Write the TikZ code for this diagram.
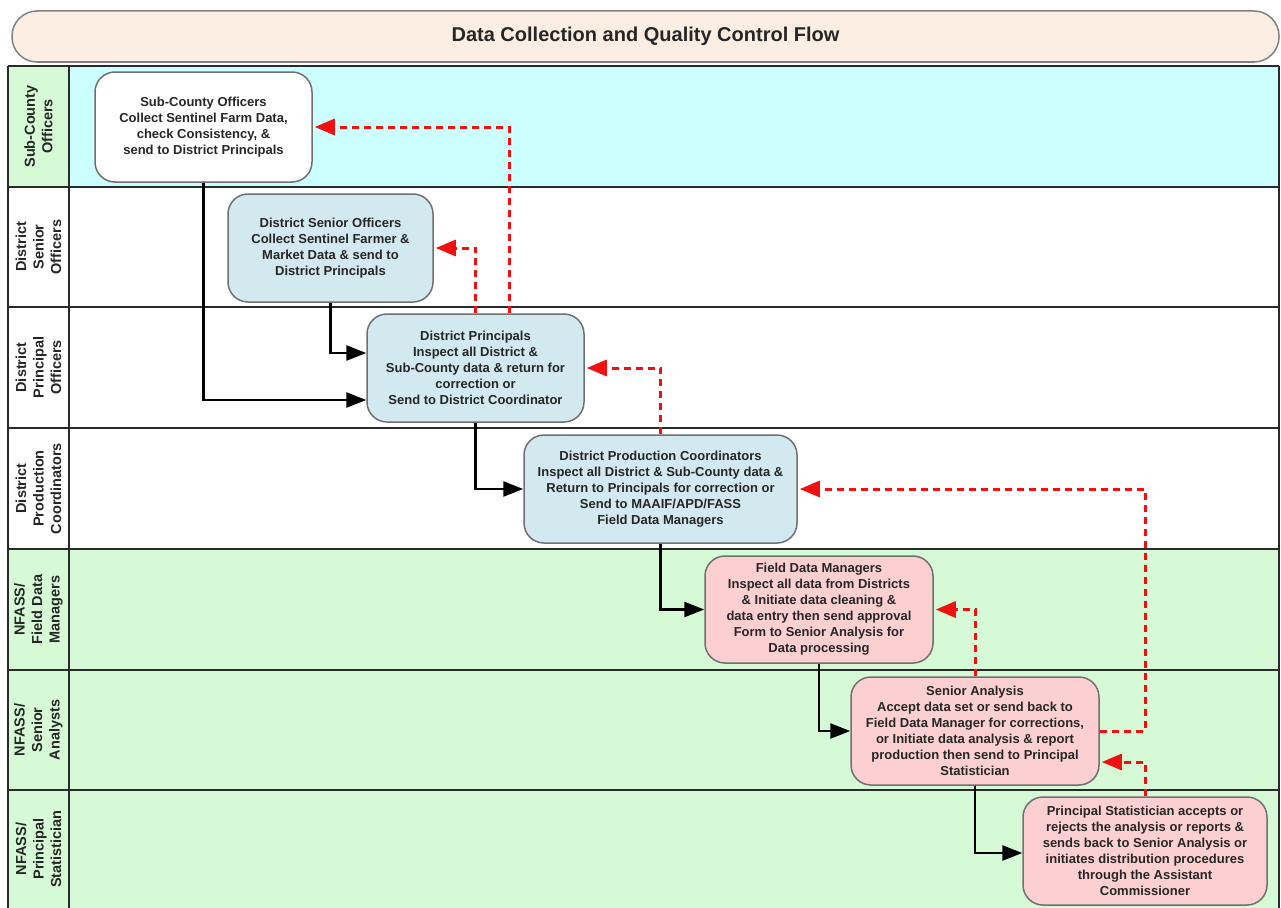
\documentclass[tikz,border=0pt]{standalone}
\usepackage{fontspec}
\setmainfont{Liberation Sans}
\usetikzlibrary{arrows.meta,calc}
\definecolor{titlefill}{HTML}{FCEEE2}
\definecolor{cyanlane}{HTML}{CCFFFF}
\definecolor{greenlane}{HTML}{D5FAD5}
\definecolor{bluenode}{HTML}{D2E9EF}
\definecolor{pinknode}{HTML}{FCD0D0}
\definecolor{boxline}{HTML}{707070}
\definecolor{laneline}{HTML}{2A2A2A}
\definecolor{redline}{HTML}{F01010}
\tikzset{
  proc/.style={draw=boxline, line width=1.5pt, rounded corners=20pt, align=center,
    font=\bfseries\fontsize{13}{16}\selectfont, inner sep=0pt, text=black!85},
  lanelabel/.style={rotate=90, align=center, font=\bfseries\fontsize{14.5}{17.5}\selectfont, text=black!85},
  flow/.style={line width=2.5pt, -{Triangle[length=20pt,width=15pt]}},
  back/.style={redline, line width=3pt, dash pattern=on 7pt off 5pt, shorten >=2pt,
    -{Triangle[length=20pt,width=16pt]}},
  laneln/.style={draw=laneline, line width=2pt},
}
\begin{document}
\begin{tikzpicture}[x=1pt,y=-1pt]
\useasboundingbox (0,0) rectangle (1281,907);
\clip (0,0) rectangle (1281,907);
% title
\node[draw=gray, line width=1.5pt, fill=titlefill, rounded corners=25pt, minimum width=1267pt, minimum height=51pt,
  font=\bfseries\fontsize{20}{22}\selectfont, text=black!85] (title) at (645.5,36.5) {Data Collection and Quality Control Flow};
% lanes
\fill[greenlane] (8,66) rectangle (69,187);
\fill[cyanlane] (69,66) rectangle (1279,187);
\fill[white] (8,187) rectangle (1279,549);
\fill[greenlane] (8,549) rectangle (1279,912);
\foreach \yy in {66,187,307,428,549,670,790}{
  \draw[laneln] (8,\yy) -- (1279,\yy);
}
\draw[laneln] (8,66) -- (8,912);
\draw[laneln] (69,66) -- (69,912);
\draw[laneln] (1279,66) -- (1279,912);
% lane labels
\node[lanelabel] (l1) at (38.5,126.5) {Sub-County\\Officers};
\node[lanelabel] (l2) at (38.5,247) {District\\Senior\\Officers};
\node[lanelabel] (l3) at (38.5,367.5) {District\\Principal\\Officers};
\node[lanelabel] (l4) at (38.5,488.5) {District\\Production\\Coordinators};
\node[lanelabel] (l5) at (38.5,609.5) {NFASS/\\Field Data\\Managers};
\node[lanelabel] (l6) at (38.5,730) {NFASS/\\Senior\\Analysts};
\node[lanelabel] (l7) at (38.5,849) {NFASS/\\Principal\\Statistician};
% process boxes
\node[proc, fill=white, minimum width=217pt, minimum height=110pt] (n1) at (203.5,127)
  {Sub-County Officers\\Collect Sentinel Farm Data,\\check Consistency, \&\\send to District Principals};
\node[proc, fill=bluenode, minimum width=205pt, minimum height=108pt] (n2) at (330.5,248)
  {District Senior Officers\\Collect Sentinel Farmer \&\\Market Data \& send to\\District Principals};
\node[proc, fill=bluenode, minimum width=217pt, minimum height=108pt] (n3) at (475.5,368)
  {District Principals\\Inspect all District \&\\Sub-County data \& return for\\correction or\\Send to District Coordinator};
\node[proc, fill=bluenode, minimum width=273pt, minimum height=108pt] (n4) at (660.5,489)
  {District Production Coordinators\\Inspect all District \& Sub-County data \&\\Return to Principals for correction or\\Send to MAAIF/APD/FASS\\Field Data Managers};
\node[proc, fill=pinknode, minimum width=228pt, minimum height=107pt] (n5) at (819,609.5)
  {Field Data Managers\\Inspect all data from Districts\\\& Initiate data cleaning \&\\data entry then send approval\\Form to Senior Analysis for\\Data processing};
\node[proc, fill=pinknode, minimum width=248pt, minimum height=108pt] (n6) at (975,731)
  {Senior Analysis\\Accept data set or send back to\\Field Data Manager for corrections,\\or Initiate data analysis \& report\\production then send to Principal\\Statistician};
\node[proc, fill=pinknode, minimum width=244pt, minimum height=108pt] (n7) at (1145,851)
  {Principal Statistician accepts or\\rejects the analysis or reports \&\\sends back to Senior Analysis or\\initiates distribution procedures\\through the Assistant\\Commissioner};
% forward flow
\draw[flow] (n1.south) |- ($(n3.west)+(0,32)$);
\draw[flow] (n2.south) |- ($(n3.west)+(0,-15)$);
\draw[flow] (n3.south) |- (n4.west);
\draw[flow] (n4.south) |- (n5.west);
\draw[flow] (n5.south) |- (n6.west);
\draw[flow] (n6.south) |- ($(n7.west)+(0,2)$);
% return flow
\draw[back] ($(n3.north)+(33.5,0)$) |- (n1.east);
\draw[back] (n3.north) |- (n2.east);
\draw[back] (n4.north) |- (n3.east);
\draw[back] (n6.north) |- (n5.east);
\draw[back] (n7.north) |- ($(n6.east)+(0,31)$);
\draw[back] (n6.east) -- (n6.east -| n7.north) |- (n4.east);
\end{tikzpicture}
\end{document}
